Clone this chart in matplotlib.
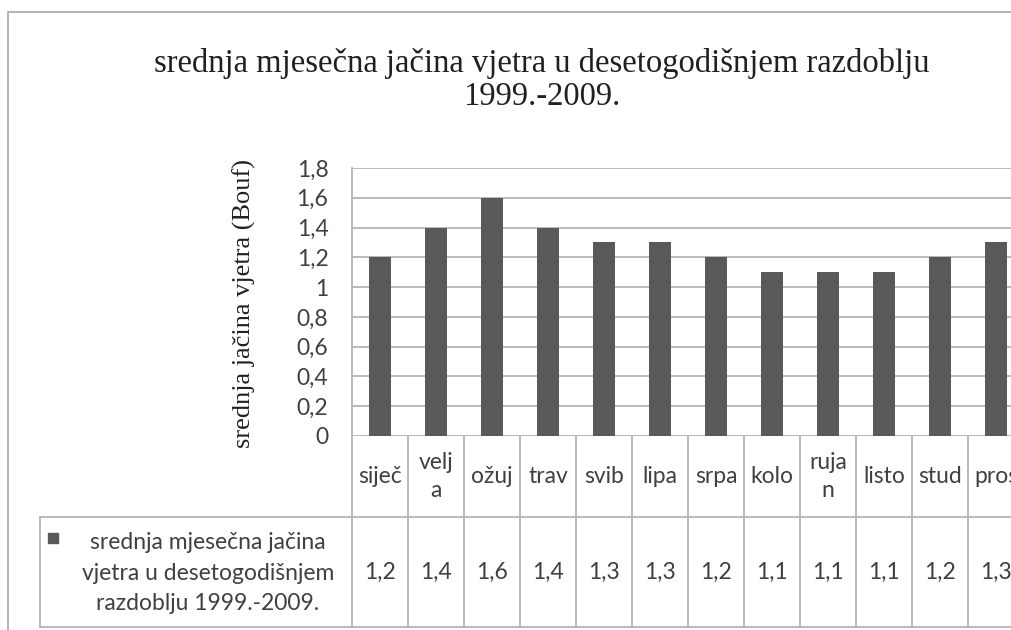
import numpy as np
import matplotlib
matplotlib.use("Agg")
import matplotlib.pyplot as plt
from matplotlib.patches import Rectangle

months = ["siječ", "velj\na", "ožuj", "trav", "svib", "lipa", "srpa", "kolo", "ruja\nn", "listo", "stud", "pros"]
wind = [1.2, 1.4, 1.6, 1.4, 1.3, 1.3, 1.2, 1.1, 1.1, 1.1, 1.2, 1.3]
yticks = [0, 0.2, 0.4, 0.6, 0.8, 1.0, 1.2, 1.4, 1.6, 1.8]
series_name = "srednja mjesečna jačina\nvjetra u desetogodišnjem\nrazdoblju 1999.-2009."
title = "srednja mjesečna jačina vjetra u desetogodišnjem razdoblju\n1999.-2009."
ylabel = "srednja jačina vjetra (Bouf)"

W, H = 1012, 630
bar_col = "#595959"
grid_col = "#b4b4b4"
txt_col = "#404040"
sans = "Lato"
serif = "Liberation Serif"
fs = 16.5

def fx(px):
    return px / W

def fy(py):
    return (H - py) / H

fig = plt.figure(figsize=(W / 100, H / 100), dpi=100)
fig.patch.set_facecolor("white")

# outer chart frame (cut by the picture on the right and bottom)
fig.add_artist(Rectangle((fx(8), -0.1), 1.2, fy(12) + 0.1, transform=fig.transFigure,
                         fill=False, ec="#a8a8a8", lw=1.2))

fig.text(fx(542), fy(80), title, ha="center", va="center", family=serif,
         fontsize=23.5, color="#202020", linespacing=1.1)

# plot area: each category is 56 px wide, the last one runs off the picture
left, top, bottom = 352, 168, 436
cat_w = 56
ax = fig.add_axes([fx(left), fy(bottom), cat_w * len(months) / W, (bottom - top) / H])
x = np.arange(len(months))
ax.bar(x, wind, width=0.4, color=bar_col, zorder=3)
ax.set_xlim(-0.5, len(months) - 0.5)
ax.set_ylim(0, 1.8)
ax.set_yticks(yticks)
ax.set_yticklabels([("%g" % v).replace(".", ",") for v in yticks],
                   family=sans, fontsize=fs, color=txt_col)
ax.tick_params(axis="y", length=0, pad=17)
ax.set_xticks([])
ax.grid(axis="y", color=grid_col, lw=1.3, zorder=0)
for s in ["top", "right", "bottom"]:
    ax.spines[s].set_visible(False)
ax.spines["left"].set_color(grid_col)
ax.spines["left"].set_linewidth(1.3)

fig.text(fx(244), fy(303), ylabel, rotation=90, ha="center", va="center",
         family=serif, fontsize=19, color="#202020")

# data table below the plot
t_top, t_mid, t_bot = 436, 517, 627
tax = fig.add_axes([fx(left), fy(t_bot), cat_w * len(months) / W, (t_bot - t_top) / H])
tax.set_xlim(-0.5, len(months) - 0.5)
tax.set_ylim(0, 1)
tax.axis("off")
mid = (t_bot - t_mid) / (t_bot - t_top)
leg_x = -0.5 - (left - 40) / cat_w
for i in range(len(months) + 1):
    tax.plot([i - 0.5, i - 0.5], [0, 1], color=grid_col, lw=1.3, clip_on=False)
tax.plot([leg_x, len(months) - 0.5], [mid, mid], color=grid_col, lw=1.3, clip_on=False)
tax.plot([leg_x, len(months) - 0.5], [0, 0], color=grid_col, lw=1.3, clip_on=False)
tax.plot([leg_x, leg_x], [0, mid], color=grid_col, lw=1.3, clip_on=False)
for i, (m, v) in enumerate(zip(months, wind)):
    tax.text(i, (1 + mid) / 2, m, ha="center", va="center", family=sans,
             fontsize=fs, color=txt_col, linespacing=1.4, clip_on=False)
    tax.text(i, mid / 2, ("%g" % v).replace(".", ","), ha="center", va="center",
             family=sans, fontsize=fs, color=txt_col, clip_on=False)

fig.text(fx(208), fy(573), series_name, ha="center", va="center", family=sans,
         fontsize=fs, color=txt_col, linespacing=1.55)
fig.add_artist(Rectangle((fx(48), fy(543)), fx(10), 10 / H, transform=fig.transFigure,
                         color=bar_col))

fig.savefig("out.png", dpi=100)
